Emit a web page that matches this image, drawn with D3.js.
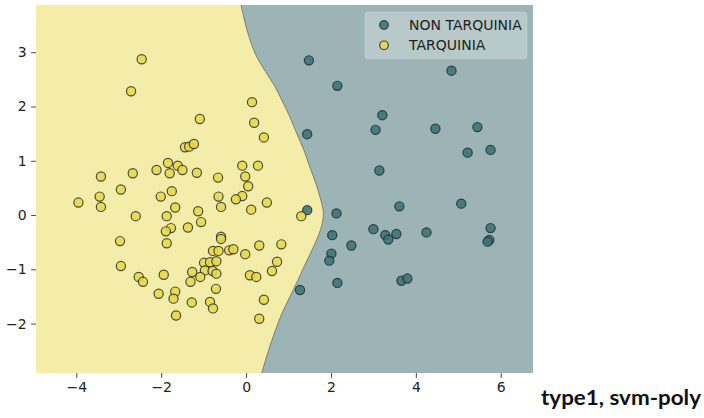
<!DOCTYPE html>
<html>
<head>
<meta charset="utf-8">
<script src="https://cdn.jsdelivr.net/npm/d3@7"></script>
<style>
  body { margin: 0; background: #ffffff; }
  svg { display: block; }
</style>
</head>
<body>
<svg id="chart" width="704" height="418"></svg>
<script>
// Class labels and colours
const classNames = ["NON TARQUINIA", "TARQUINIA"];
const pointColors = ["#3a7477", "#e6d84c"];
const regionColors = ["#9cb4b5", "#f3eda9"];

// Samples of class NON TARQUINIA: [component 1, component 2]
const nonTarquinia = [
  [1.48, 2.85], [2.15, 2.38], [4.84, 2.66], [3.21, 1.84], [1.44, 1.49],
  [3.05, 1.57], [4.46, 1.59], [5.45, 1.62], [5.22, 1.15], [5.76, 1.20],
  [3.14, 0.82], [3.61, 0.16], [5.07, 0.21], [1.44, 0.09], [2.13, 0.03],
  [2.03, -0.37], [3.00, -0.26], [3.28, -0.37], [3.35, -0.45], [3.54, -0.35],
  [4.25, -0.32], [5.76, -0.24], [5.73, -0.46], [5.69, -0.49], [2.48, -0.56],
  [2.01, -0.71], [1.96, -0.84], [1.27, -1.38], [2.15, -1.25], [3.66, -1.21],
  [3.80, -1.17]
];

// Samples of class TARQUINIA: [component 1, component 2]
const tarquinia = [
  [-2.46, 2.87], [-2.71, 2.28], [0.14, 2.08], [0.19, 1.70], [-1.09, 1.77],
  [0.42, 1.43], [-1.44, 1.25], [-1.34, 1.26], [-1.23, 1.31], [-1.84, 0.96],
  [-1.61, 0.91], [-1.50, 0.83], [-1.16, 0.78], [-1.80, 0.77], [-2.11, 0.83],
  [-2.67, 0.77], [-3.42, 0.71], [-0.09, 0.91], [0.28, 0.91], [-0.02, 0.71],
  [-0.66, 0.69], [0.05, 0.53], [-2.95, 0.47], [-3.45, 0.34], [-2.01, 0.34],
  [-1.75, 0.44], [-0.65, 0.34], [-0.09, 0.35], [-0.24, 0.29], [-3.95, 0.23],
  [0.49, 0.23], [-3.42, 0.15], [-1.67, 0.14], [-1.87, -0.02], [-2.60, -0.02],
  [-1.13, 0.07], [-1.06, -0.13], [-1.37, -0.23], [-1.77, -0.24], [-1.89, -0.30],
  [-1.87, -0.52], [-2.97, -0.48], [-0.59, 0.15], [0.12, 0.10], [1.30, -0.02],
  [-0.59, -0.40], [-0.59, -0.44], [-0.78, -0.66], [-0.65, -0.66], [-0.40, -0.65],
  [-0.30, -0.63], [-0.02, -0.72], [0.31, -0.56], [0.83, -0.54], [0.73, -0.86],
  [0.61, -1.03], [-0.99, -0.88], [-0.85, -0.87], [-0.70, -0.85], [-1.27, -1.05],
  [-0.97, -1.02], [-0.79, -1.03], [-0.70, -1.08], [-1.08, -1.14], [-1.31, -1.23],
  [0.09, -1.11], [0.24, -1.14], [-1.94, -1.10], [-2.53, -1.14], [-2.43, -1.23],
  [-1.67, -1.41], [-1.71, -1.54], [-2.06, -1.45], [-1.28, -1.61], [-0.71, -1.36],
  [-0.85, -1.60], [-0.78, -1.72], [-1.65, -1.85], [0.42, -1.56], [0.31, -1.91],
  [-2.95, -0.94]
];

// Decision boundary of the polynomial SVM, traced from top to bottom: [x, y]
const boundary = [
  [-0.12, 3.87], [0.04, 3.36], [0.23, 2.95], [0.46, 2.64], [0.67, 2.38],
  [0.84, 2.12], [1.03, 1.81], [1.19, 1.51], [1.36, 1.20], [1.50, 0.89],
  [1.64, 0.59], [1.76, 0.28], [1.82, 0.04], [1.78, -0.20], [1.66, -0.46],
  [1.52, -0.70], [1.36, -0.96], [1.22, -1.20], [1.03, -1.51], [0.84, -1.82],
  [0.67, -2.17], [0.53, -2.49], [0.37, -2.91]
];

const xTicks = [-4, -2, 0, 2, 4, 6];
const yTicks = [-2, -1, 0, 1, 2, 3];
const title = "type1, svm-poly";

const svg = d3.select("#chart");
const plot = { left: 36, right: 533, top: 5, bottom: 373 };

// Axis limits: data range padded by one unit on each side
const all = nonTarquinia.concat(tarquinia);
const x = d3.scaleLinear()
  .domain([d3.min(all, d => d[0]) - 1, d3.max(all, d => d[0]) + 1])
  .range([plot.left, plot.right]);
const y = d3.scaleLinear()
  .domain([d3.min(all, d => d[1]) - 1, d3.max(all, d => d[1]) + 1])
  .range([plot.bottom, plot.top]);

svg.append("defs").append("clipPath").attr("id", "plot-clip")
  .append("rect")
  .attr("x", plot.left).attr("y", plot.top)
  .attr("width", plot.right - plot.left).attr("height", plot.bottom - plot.top);

// Decision regions
const regions = svg.append("g").attr("clip-path", "url(#plot-clip)");
regions.append("rect")
  .attr("x", plot.left).attr("y", plot.top)
  .attr("width", plot.right - plot.left).attr("height", plot.bottom - plot.top)
  .attr("fill", regionColors[1]);

const boundaryLine = d3.line()
  .x(d => x(d[0])).y(d => y(d[1]))
  .curve(d3.curveCatmullRom.alpha(0.5));

regions.append("path")
  .attr("d", boundaryLine(boundary) +
    `L${plot.right + 2},${plot.bottom + 2}L${plot.right + 2},${plot.top - 2}Z`)
  .attr("fill", regionColors[0]);

regions.append("path")
  .attr("d", boundaryLine(boundary))
  .attr("fill", "none")
  .attr("stroke", "#6f7163")
  .attr("stroke-width", 1)
  .attr("stroke-opacity", 0.85);

// Axes
const tickFont = "'DejaVu Sans', sans-serif";
const intFormat = d3.format("d");
const xAxis = svg.append("g")
  .attr("transform", `translate(0,${plot.bottom})`)
  .call(d3.axisBottom(x).tickValues(xTicks).tickFormat(intFormat)
    .tickSize(4.9).tickPadding(4.5));
const yAxis = svg.append("g")
  .attr("transform", `translate(${plot.left},0)`)
  .call(d3.axisLeft(y).tickValues(yTicks).tickFormat(intFormat)
    .tickSize(4.9).tickPadding(4.5));

[xAxis, yAxis].forEach(g => {
  g.select(".domain").remove();
  g.selectAll(".tick line").attr("stroke", "#333").attr("stroke-width", 0.9);
  g.selectAll(".tick text")
    .attr("fill", "#222")
    .style("font-family", tickFont)
    .style("font-size", "14px");
});

// Scatter points
const pointStyle = sel => sel
  .attr("r", 4.6)
  .attr("stroke", "#262626")
  .attr("stroke-width", 1.2)
  .attr("stroke-opacity", 0.8)
  .attr("fill-opacity", 0.88);

const points = svg.append("g").attr("clip-path", "url(#plot-clip)");
[nonTarquinia, tarquinia].forEach((set, i) => {
  points.append("g")
    .selectAll("circle")
    .data(set)
    .join("circle")
    .attr("cx", d => x(d[0]))
    .attr("cy", d => y(d[1]))
    .attr("fill", pointColors[i])
    .call(pointStyle);
});

// Legend
const legend = svg.append("g");
legend.append("rect")
  .attr("x", 365).attr("y", 12)
  .attr("width", 162).attr("height", 47)
  .attr("rx", 3)
  .attr("fill", "#ffffff").attr("fill-opacity", 0.28)
  .attr("stroke", "#d8d8d8").attr("stroke-opacity", 0.35);

classNames.forEach((name, i) => {
  const cy = 25 + i * 20.3;
  legend.append("circle")
    .attr("cx", 384).attr("cy", cy)
    .attr("fill", pointColors[i])
    .call(pointStyle)
    .attr("r", 4.3);
  legend.append("text")
    .attr("x", 409).attr("y", cy + 4.8)
    .attr("fill", "#222")
    .style("font-family", tickFont)
    .style("font-size", "14px")
    .text(name);
});

// Figure caption
svg.append("text")
  .attr("x", 541).attr("y", 405)
  .attr("fill", "#111")
  .attr("textLength", 160)
  .attr("lengthAdjust", "spacingAndGlyphs")
  .style("font-family", "Lato, 'Open Sans', sans-serif")
  .style("font-weight", "bold")
  .style("font-size", "21px")
  .text(title);
</script>
</body>
</html>
